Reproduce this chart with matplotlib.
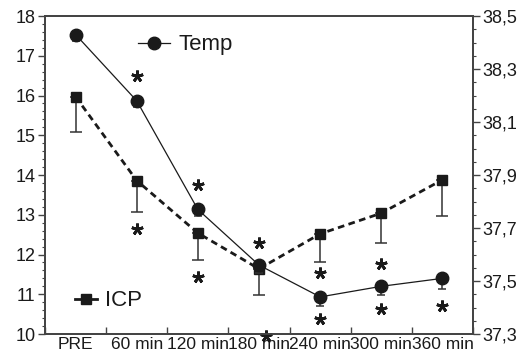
# ICP and temperature over time, dual y axes, with significance stars.
import matplotlib.pyplot as plt
from matplotlib.lines import Line2D
from matplotlib.ticker import MultipleLocator, FixedLocator, FuncFormatter
import numpy as np

plt.rcParams['font.family'] = ['Liberation Sans', 'DejaVu Sans']

TIMES = ["PRE", "60 min", "120 min", "180 min", "240 min", "300 min", "360 min"]

# ICP (left axis, mmHg): mean and downward error
ICP = [15.97, 13.86, 12.54, 11.64, 12.52, 13.04, 13.88]
ICP_ERR = [0.88, 0.80, 0.69, 0.66, 0.70, 0.74, 0.92]

# Temperature (right axis, deg C): mean and downward error
TEMP = [38.43, 38.18, 37.77, 37.56, 37.44, 37.48, 37.51]
TEMP_ERR = [0.025, 0.025, 0.026, 0.03, 0.035, 0.034, 0.041]

# significance stars: (time index, offset in categories, value on ICP scale)
STAR_IDX = [1, 1, 2, 2, 3, 3, 4, 4, 5, 5, 6]
STAR_DX = [0, 0, 0, 0, 0, 0.11, 0, 0, 0, 0, 0]
STAR_VAL = [16.49, 12.64, 13.75, 11.43, 12.29, 9.94, 11.53, 10.38, 11.76, 10.63, 10.70]

INK = "#1a1a1a"
SPINE = "#444444"


def main():
    fig = plt.figure(figsize=(5.24, 3.62), dpi=100)
    ax = fig.add_axes([0.0859, 0.0773, 0.8168, 0.8785])
    ax2 = ax.twinx()

    x = np.arange(len(TIMES))

    # ICP: thick dashed line with squares, one-sided error bars
    ax.errorbar(x, ICP, yerr=[ICP_ERR, np.zeros(len(ICP))], fmt="none",
                ecolor="#333333", elinewidth=1.1, capsize=4, capthick=1.1, zorder=2)
    ax.plot(x, ICP, color=INK, lw=2.0, linestyle=(0, (2.4, 1.6)),
            marker="s", ms=6.5, mfc=INK, mec=INK, zorder=3)

    # temperature: thin solid line with circles
    ax2.errorbar(x, TEMP, yerr=[TEMP_ERR, np.zeros(len(TEMP))], fmt="none",
                 ecolor="#333333", elinewidth=1.1, capsize=3, capthick=1.1, zorder=2)
    ax2.plot(x, TEMP, color=INK, lw=0.9, marker="o", ms=9, mfc=INK, mec=INK, zorder=3)

    # stars
    ax.plot(np.array(STAR_IDX) + np.array(STAR_DX), STAR_VAL, linestyle="none",
            marker=(5, 2, 0), ms=8.5, mew=2.0, color=INK, zorder=4, clip_on=False)

    ax.set_xlim(-0.5, len(TIMES) - 0.5)
    ax.set_ylim(10, 18)
    ax2.set_ylim(37.3, 38.5)

    # x ticks at bin edges, labels at centres
    ax.set_xticks(np.arange(-0.5, len(TIMES), 1.0))
    ax.set_xticklabels([])
    ax.set_xticks(x, minor=True)
    ax.set_xticklabels(TIMES, minor=True, fontsize=12.5, color=INK)
    ax.tick_params(axis="x", which="major", direction="in", length=5, width=1, color=SPINE)
    ax.tick_params(axis="x", which="minor", length=0, pad=2)

    ax.yaxis.set_major_locator(MultipleLocator(1))
    ax.yaxis.set_minor_locator(MultipleLocator(0.2))
    ax.tick_params(axis="y", which="major", direction="out", length=5, width=1,
                   color=SPINE, labelsize=13, labelcolor=INK, pad=2)
    ax.tick_params(axis="y", which="minor", direction="out", length=2.5, width=0.8, color=SPINE)

    ax2.yaxis.set_major_locator(FixedLocator(np.linspace(37.3, 38.5, 7)))
    ax2.yaxis.set_minor_locator(FixedLocator(np.linspace(37.3, 38.5, 25)))
    ax2.yaxis.set_major_formatter(FuncFormatter(lambda v, p: f"{v:.1f}".replace(".", ",")))
    ax2.tick_params(axis="y", which="major", direction="out", length=5, width=1,
                    color=SPINE, labelsize=13, labelcolor=INK, pad=2)
    ax2.tick_params(axis="y", which="minor", direction="out", length=2.5, width=0.8, color=SPINE)

    for a in (ax, ax2):
        for s in a.spines.values():
            s.set_color(SPINE)
            s.set_linewidth(1.3)

    # legends
    temp_h = Line2D([0], [0], color=INK, lw=0.9, marker="o", ms=9, mfc=INK, mec=INK)
    icp_h = Line2D([0], [0], color=INK, lw=2.0, marker="s", ms=6.5, mfc=INK, mec=INK)
    ax2.legend([temp_h], ["Temp"], loc="center left", bbox_to_anchor=(0.217, 0.909),
               frameon=False, fontsize=16, handlelength=1.45, handletextpad=0.4,
               borderpad=0, borderaxespad=0, labelcolor=INK)
    ax.legend([icp_h], ["ICP"], loc="center left", bbox_to_anchor=(0.070, 0.104),
              frameon=False, fontsize=16, handlelength=1.0, handletextpad=0.36,
              borderpad=0, borderaxespad=0, labelcolor=INK)

    fig.savefig("out.png", dpi=100)


if __name__ == "__main__":
    main()
